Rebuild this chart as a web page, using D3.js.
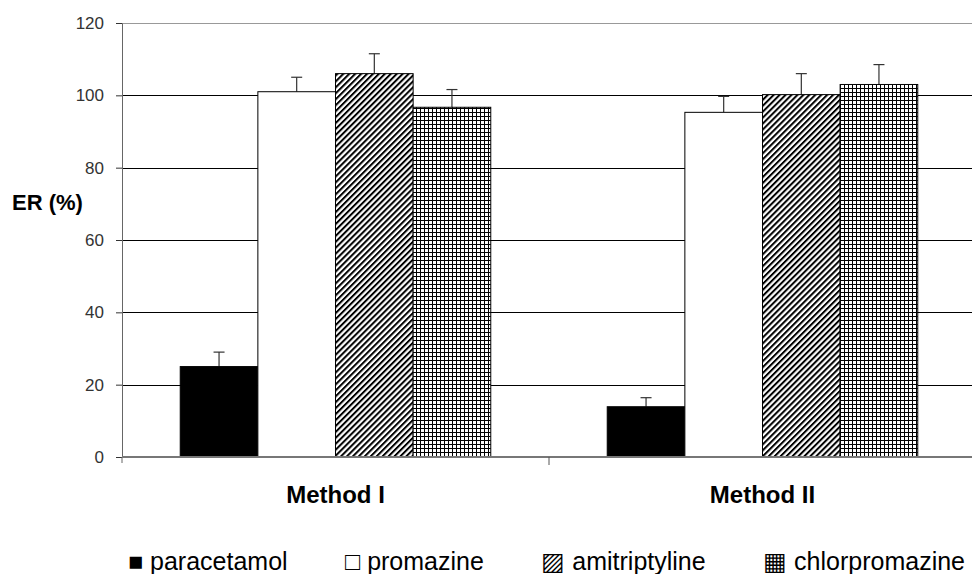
<!DOCTYPE html>
<html>
<head>
<meta charset="utf-8">
<script src="https://cdn.jsdelivr.net/npm/d3@7"></script>
<style>
  body { margin: 0; background: #fff; }
  svg { display: block; font-family: "Liberation Sans", Arial, sans-serif; }
</style>
</head>
<body>
<div id="chart"></div>
<script>
// data
var methods = ["Method I", "Method II"];
var drugs = ["paracetamol", "promazine", "amitriptyline", "chlorpromazine"];
var erMean = {
  "Method I":  [25.0, 101.0, 106.0, 96.7],
  "Method II": [13.9, 95.3, 100.2, 103.0]
};
var erSd = {
  "Method I":  [4.0, 4.0, 5.5, 4.9],
  "Method II": [2.5, 4.4, 5.8, 5.5]
};
var yTicks = [0, 20, 40, 60, 80, 100, 120];
var legendSymbols = ["\u25A0", "\u25A1", "\u25A8", "\u25A6"];

var width = 972, height = 574;
var margin = {top: 23, right: -4, bottom: 117, left: 122};

var svg = d3.select("#chart")
  .append("svg")
    .attr("width", width)
    .attr("height", height);

// patterns for the bars
var defs = svg.append("defs");
var diag = defs.append("pattern")
  .attr("id", "diag")
  .attr("patternUnits", "userSpaceOnUse")
  .attr("width", 4.2).attr("height", 4.2)
  .attr("patternTransform", "rotate(45)");
diag.append("rect").attr("width", 4.2).attr("height", 4.2).attr("fill", "#fff");
diag.append("rect").attr("width", 2).attr("height", 4.2).attr("fill", "#000");

var grid = defs.append("pattern")
  .attr("id", "grid")
  .attr("patternUnits", "userSpaceOnUse")
  .attr("width", 4).attr("height", 4);
grid.append("rect").attr("width", 4).attr("height", 4).attr("fill", "#fff");
grid.append("rect").attr("width", 1).attr("height", 4).attr("fill", "#000");
grid.append("rect").attr("width", 4).attr("height", 1).attr("fill", "#000");

var fills = d3.scaleOrdinal()
  .domain(drugs)
  .range(["#000", "#fff", "url(#diag)", "url(#grid)"]);

// scales
var x0 = d3.scaleBand()
  .domain(methods)
  .range([margin.left, width - margin.right])
  .paddingInner(0).paddingOuter(0);

var x1 = d3.scaleBand()
  .domain(drugs)
  .range([0, x0.bandwidth()])
  .paddingInner(0).paddingOuter(0.75);

var y = d3.scaleLinear()
  .domain([0, 120])
  .range([height - margin.bottom, margin.top]);

// gridlines
svg.append("g")
  .selectAll("line")
  .data(yTicks.filter(function(d) { return d > 0; }))
  .enter()
  .append("line")
    .attr("x1", margin.left)
    .attr("x2", width)
    .attr("y1", function(d) { return Math.round(y(d)) + 0.5; })
    .attr("y2", function(d) { return Math.round(y(d)) + 0.5; })
    .attr("stroke", function(d) { return d === 120 ? "#999" : "#000"; })
    .attr("stroke-width", 1);

// bars
var rows = [];
methods.forEach(function(m) {
  drugs.forEach(function(dr, i) {
    rows.push({method: m, drug: dr, value: erMean[m][i], sd: erSd[m][i]});
  });
});

function cx(d) { return x0(d.method) + x1(d.drug) + x1.bandwidth() / 2; }

// error bars (upper only)
var err = svg.append("g")
  .selectAll("g")
  .data(rows)
  .enter()
  .append("g")
    .attr("stroke", "#333")
    .attr("stroke-width", 1.2);
err.append("line")
  .attr("x1", cx)
  .attr("x2", cx)
  .attr("y1", function(d) { return y(d.value); })
  .attr("y2", function(d) { return y(d.value + d.sd); });
err.append("line")
  .attr("x1", function(d) { return cx(d) - 5.5; })
  .attr("x2", function(d) { return cx(d) + 5.5; })
  .attr("y1", function(d) { return y(d.value + d.sd); })
  .attr("y2", function(d) { return y(d.value + d.sd); });

svg.append("g")
  .selectAll("rect")
  .data(rows)
  .enter()
  .append("rect")
    .attr("x", function(d) { return x0(d.method) + x1(d.drug); })
    .attr("y", function(d) { return y(d.value); })
    .attr("width", x1.bandwidth())
    .attr("height", function(d) { return y(0) - y(d.value); })
    .attr("fill", function(d) { return fills(d.drug); })
    .attr("stroke", "#000")
    .attr("stroke-width", 1);

// y axis
var yAxis = svg.append("g")
  .attr("transform", "translate(" + margin.left + ",0)")
  .call(d3.axisLeft(y).tickValues(yTicks).tickSize(6).tickPadding(12));
yAxis.select(".domain").attr("stroke", "#666");
yAxis.selectAll(".tick line").attr("stroke", "#333");
yAxis.selectAll("text")
  .attr("font-size", 17)
  .attr("fill", "#333")
  .attr("font-family", "Liberation Sans, Arial, sans-serif");
yAxis.append("line")
  .attr("x1", 0).attr("x2", 0)
  .attr("y1", y(0)).attr("y2", y(0) + 6)
  .attr("stroke", "#666");

// x axis
var xAxis = svg.append("g")
  .attr("transform", "translate(0," + y(0) + ")");
xAxis.append("line")
  .attr("x1", margin.left).attr("x2", width)
  .attr("stroke", "#777").attr("stroke-width", 2);
xAxis.selectAll(".sep")
  .data(methods.slice(1))
  .enter()
  .append("line")
    .attr("class", "sep")
    .attr("x1", function(d) { return x0(d); })
    .attr("x2", function(d) { return x0(d); })
    .attr("y1", 0).attr("y2", 8)
    .attr("stroke", "#555");
xAxis.selectAll(".lab")
  .data(methods)
  .enter()
  .append("text")
    .attr("class", "lab")
    .attr("x", function(d) { return x0(d) + x0.bandwidth() / 2; })
    .attr("y", 46)
    .attr("text-anchor", "middle")
    .attr("font-size", 24)
    .attr("font-weight", "bold")
    .attr("fill", "#000")
    .text(function(d) { return d; });

// y axis label
svg.append("text")
  .attr("x", 12)
  .attr("y", 210)
  .attr("font-size", 22)
  .attr("font-weight", "bold")
  .text("ER (%)");

// legend: one line spread evenly between its two ends
var legStart = 128, legEnd = 965;
var legend = svg.append("g")
  .selectAll("text")
  .data(drugs)
  .enter()
  .append("text")
    .attr("y", 570)
    .attr("font-size", 25)
    .attr("fill", "#000")
    .text(function(d, i) { return legendSymbols[i] + " " + d; });
var lens = [];
legend.each(function() { lens.push(this.getComputedTextLength()); });
var gap = (legEnd - legStart - d3.sum(lens)) / (lens.length - 1);
var pos = legStart;
legend.attr("x", function(d, i) {
  var p = pos;
  pos += lens[i] + gap;
  return p;
});
</script>
</body>
</html>
